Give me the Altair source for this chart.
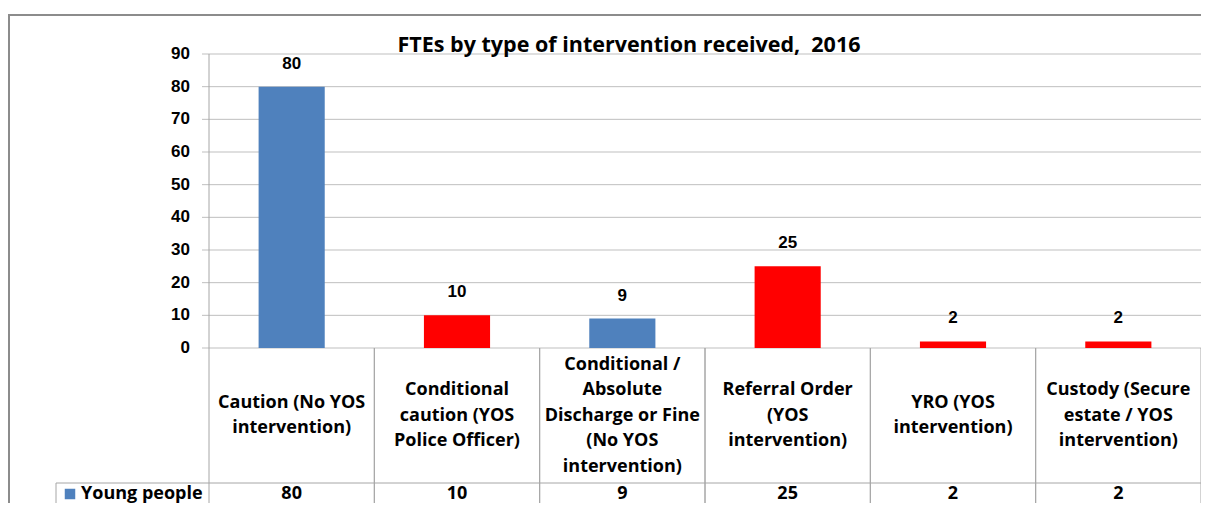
import altair as alt
import pandas as pd

title_text = "FTEs by type of intervention received,\u00a0 2016"
categories = [
    "Caution (No YOS intervention)",
    "Conditional caution (YOS Police Officer)",
    "Conditional / Absolute Discharge or Fine (No YOS intervention)",
    "Referral Order (YOS intervention)",
    "YRO (YOS intervention)",
    "Custody (Secure estate / YOS intervention)",
]
label_lines = [
    "Caution (No YOS|intervention)",
    "Conditional|caution (YOS|Police Officer)",
    "Conditional /|Absolute|Discharge or Fine|(No YOS|intervention)",
    "Referral Order|(YOS|intervention)",
    "YRO (YOS|intervention)",
    "Custody (Secure|estate / YOS|intervention)",
]
values = [80, 10, 9, 25, 2, 2]
yos_involved = ["No", "Yes", "No", "Yes", "Yes", "Yes"]
series_name = "Young people"
y_ticks = [0, 10, 20, 30, 40, 50, 60, 70, 80, 90]

df = pd.DataFrame({
    "cat": categories,
    "label": label_lines,
    "nlines": [len(s.split("|")) for s in label_lines],
    "value": values,
    "yos": yos_involved,
    "idx": list(range(len(categories))),
})
ticks_df = pd.DataFrame({"tick": y_ticks})
one = pd.DataFrame({"t": [title_text], "s": [series_name]})

W, H = 992, 294
BOTTOM = 155
GRID = "#BFBFBF"
LINE = "#A6A6A6"
cal = "Open Sans"
ari = "Liberation Sans"
LH = 25.5
ROW_TOP = 429
HEADER_MID = (H + ROW_TOP) / 2
ROW_MID = 440

xscale = alt.Scale(domain=[-0.5, len(categories) - 0.5], nice=False, zero=False)
yscale = alt.Scale(domain=[0, 90], nice=False, zero=True)

base = alt.Chart(df).transform_calculate(
    x0="datum.idx - 0.2", x1="datum.idx + 0.2",
    c0="datum.idx - 0.5", c1="datum.idx + 0.5",
)

# value axis: gridlines, ticks and labels drawn from the tick list
t = alt.Chart(ticks_df)
grid = t.mark_rule(color=GRID, strokeWidth=1).encode(
    y=alt.Y("tick:Q", scale=yscale, axis=None),
    x=alt.value(-7), x2=alt.value(W))
tick_labels = t.mark_text(font=ari, fontSize=17, fontWeight="bold", align="right",
                          baseline="middle", color="#000000").encode(
    y=alt.Y("tick:Q", scale=yscale, axis=None),
    x=alt.value(-19), text="tick:Q")

bars = base.mark_bar().encode(
    x=alt.X("x0:Q", scale=xscale, axis=None),
    x2="x1:Q",
    y=alt.Y("value:Q", scale=yscale, axis=None),
    y2=alt.datum(0),
    color=alt.Color("yos:N", scale=alt.Scale(domain=["No", "Yes"],
                                             range=["#4F81BD", "#FF0000"]),
                    legend=None),
)

bar_labels = base.mark_text(font=ari, fontSize=17, fontWeight="bold",
                            baseline="alphabetic", dy=-18, color="#000000").encode(
    x=alt.X("idx:Q", scale=xscale, axis=None),
    y=alt.Y("value:Q", scale=yscale, axis=None),
    text="value:Q")

col_lines_left = base.mark_rule(color=LINE, strokeWidth=1).encode(
    x=alt.X("c0:Q", scale=xscale, axis=None), y=alt.value(H), y2=alt.value(H + BOTTOM))
col_lines_right = base.mark_rule(color=LINE, strokeWidth=1).encode(
    x=alt.X("c1:Q", scale=xscale, axis=None), y=alt.value(H), y2=alt.value(H + BOTTOM))

cat_layers = []
for n in sorted(set(df["nlines"])):
    cat_layers.append(
        base.transform_filter(f"datum.nlines == {n}").mark_text(
            font=cal, fontSize=18, fontWeight="bold", lineHeight=LH, lineBreak="|",
            baseline="middle", align="center", color="#000000").encode(
            x=alt.X("idx:Q", scale=xscale, axis=None),
            y=alt.value(HEADER_MID - (n - 1) * LH / 2),
            text="label:N")
    )

row_vals = base.mark_text(font=cal, fontSize=18, fontWeight="bold",
                          baseline="middle", align="center", color="#000000").encode(
    x=alt.X("idx:Q", scale=xscale, axis=None), y=alt.value(ROW_MID), text="value:Q")

o = alt.Chart(one)
axis_line = o.mark_rule(color=LINE).encode(
    x=alt.value(0), y=alt.value(0), y2=alt.value(H))
row_top = o.mark_rule(color=LINE).encode(
    x=alt.value(-153), x2=alt.value(W), y=alt.value(ROW_TOP))
row_left = o.mark_rule(color=LINE).encode(
    x=alt.value(-153), y=alt.value(ROW_TOP), y2=alt.value(H + BOTTOM))
legend_sq = o.mark_point(shape="square", size=110, color="#4F81BD", opacity=1,
                         filled=True).encode(
    x=alt.value(-139), y=alt.value(ROW_MID))
row_head = o.mark_text(font=cal, fontSize=18, fontWeight="bold", align="left",
                       baseline="middle", color="#000000").encode(
    x=alt.value(-128), y=alt.value(ROW_MID), text="s:N")
title = o.mark_text(font=cal, fontSize=21.5, fontWeight="bold", align="center",
                    baseline="alphabetic", color="#000000").encode(
    x=alt.value(420), y=alt.value(-2), text="t:N")
border_top = o.mark_rule(color="#8C8C8C", strokeWidth=2).encode(
    x=alt.value(-202), x2=alt.value(W + 10), y=alt.value(-39))
border_left = o.mark_rule(color="#8C8C8C", strokeWidth=2).encode(
    x=alt.value(-200), y=alt.value(-39), y2=alt.value(H + BOTTOM))

chart = alt.layer(
    grid, tick_labels, bars, bar_labels, axis_line, col_lines_left, col_lines_right,
    *cat_layers, row_vals, row_top, row_left, legend_sq, row_head, title,
    border_top, border_left,
).properties(
    width=W, height=H,
    autosize=alt.AutoSizeParams(type="none"),
    padding={"left": 201, "top": 46, "right": 0, "bottom": BOTTOM},
).configure_view(stroke=None)

chart.save("out.html", embed_options={"renderer": "svg", "actions": False})
